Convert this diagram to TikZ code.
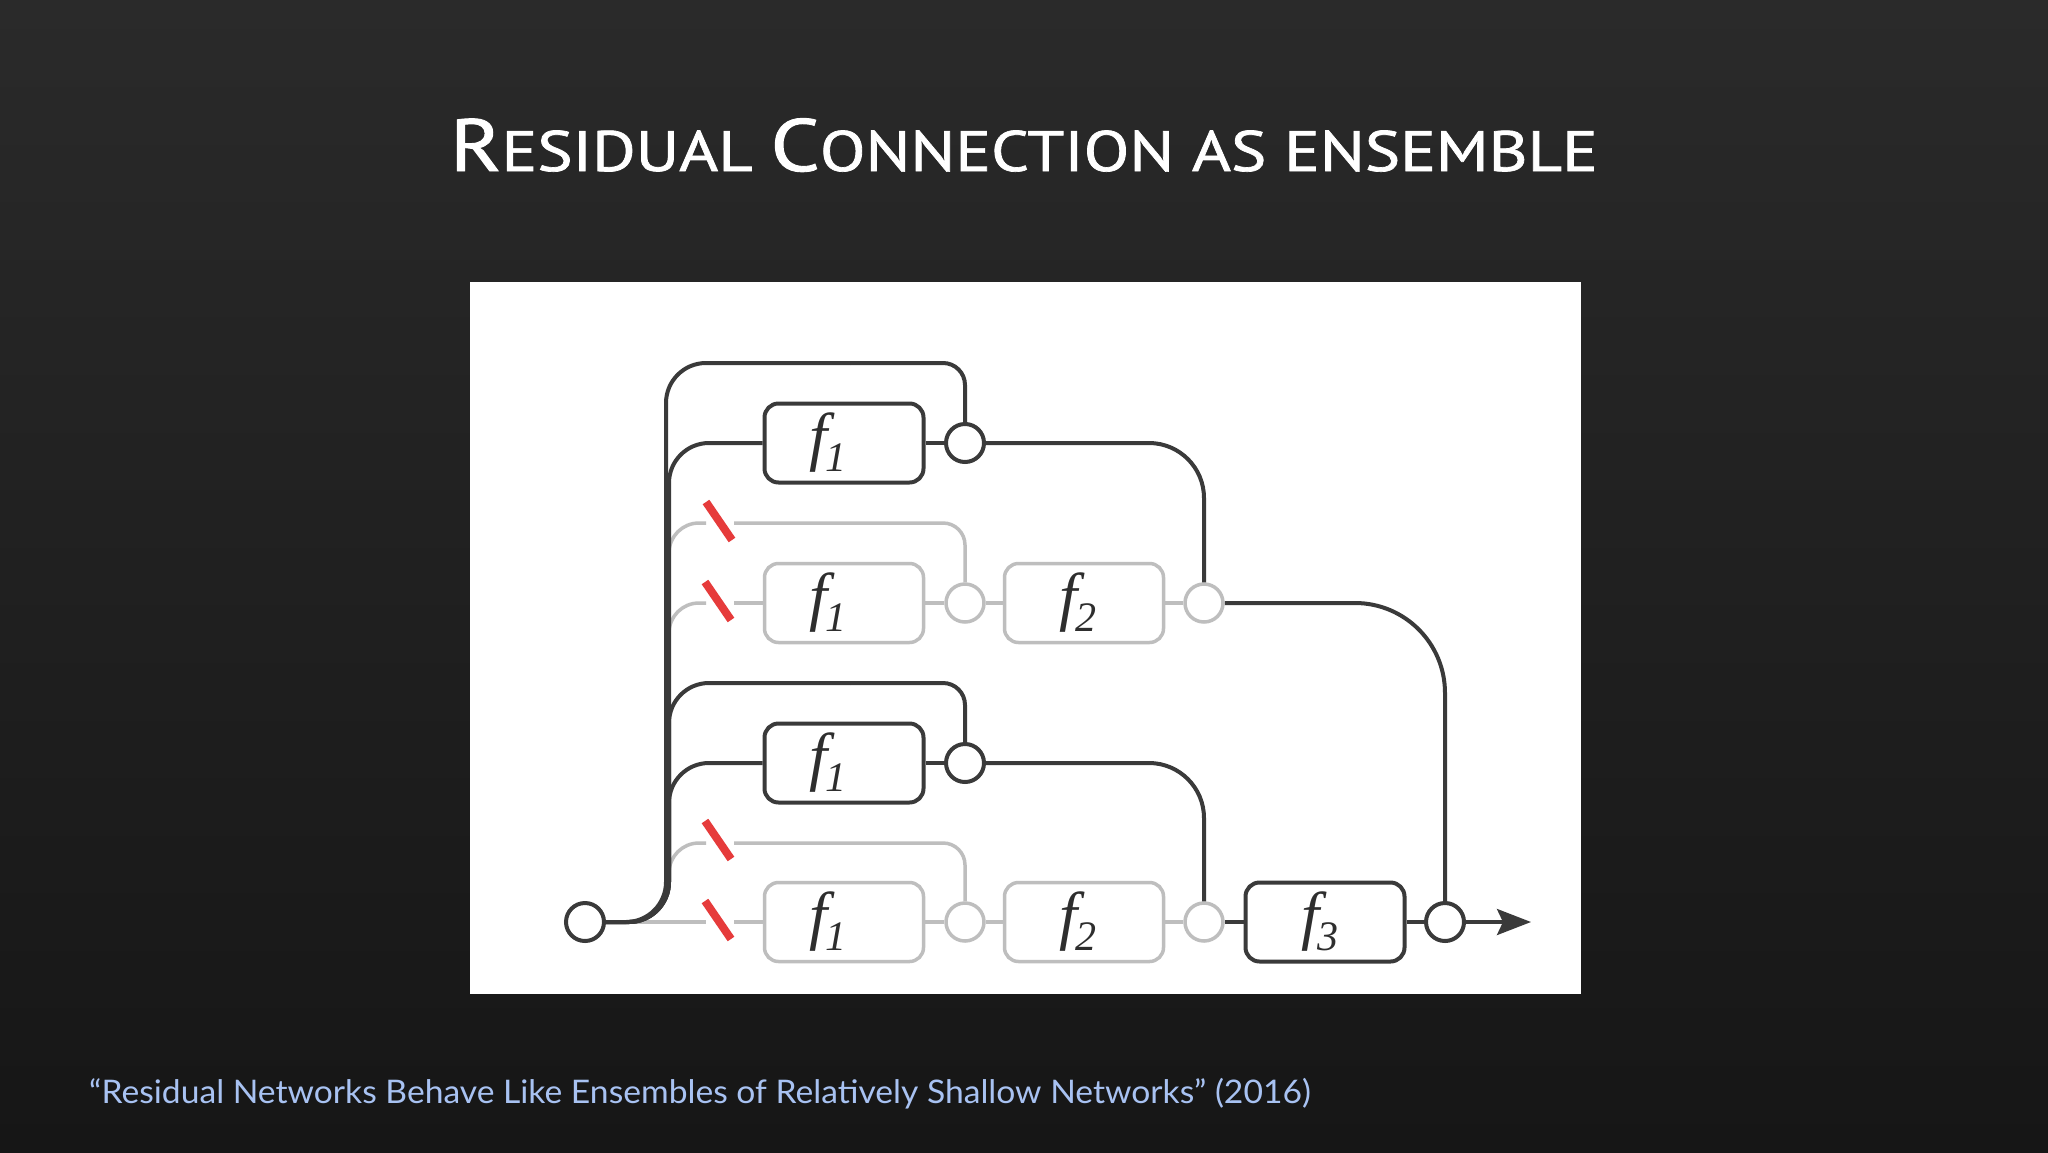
\documentclass[tikz,border=0pt]{standalone}
\usepackage{fontspec}
\usetikzlibrary{arrows.meta}
\newfontfamily\titlefont[FakeBold=1.2]{PT Sans}
\newfontfamily\footfont{Lato}
\newfontfamily\tms{Liberation Serif}
\definecolor{dk}{HTML}{3A3A3A}
\definecolor{gy}{HTML}{BEBEBE}
\definecolor{rd}{HTML}{E63B3B}
\definecolor{bgtop}{HTML}{2A2A2A}
\definecolor{bgbot}{HTML}{161616}
\definecolor{footc}{HTML}{A8C2F2}
\definecolor{txt}{HTML}{2E2E2E}
\newcommand\flab[1]{{\tms\itshape\fontsize{65}{65}\selectfont f\kern-3pt\raisebox{-13pt}{\fontsize{42}{42}\selectfont #1}}}
\newcommand\tbig[1]{{\fontsize{74}{80}\selectfont #1}}
\tikzset{
 dkline/.style={draw=dk, line width=4pt},
 gyline/.style={draw=gy, line width=3.5pt},
 boxd/.style={rectangle, draw=dk, line width=4pt, rounded corners=14pt, minimum width=159pt, minimum height=79pt, fill=white, inner sep=0pt, text=txt},
 boxg/.style={boxd, draw=gy, line width=3.5pt},
 sumd/.style={circle, draw=dk, line width=4pt, fill=white, minimum size=38pt, inner sep=0pt},
 sumg/.style={sumd, draw=gy, line width=3.5pt},
 rslash/.style={draw=rd, line width=8pt},
}
\begin{document}
\begin{tikzpicture}[x=1pt,y=-1pt]
\useasboundingbox (0,0) rectangle (2048,1152);
\shade[top color=bgtop, bottom color=bgbot] (0,0) rectangle (2048,1152);
\fill[white] (470,282) rectangle (1581,994);
% title and footer
\node[anchor=base, text=white, inner sep=0pt] (title) at (1024,171)
  {\scalebox{1.17}[1]{\titlefont\fontsize{57}{60}\selectfont \tbig{R}ESIDUAL \tbig{C}ONNECTION AS ENSEMBLE}};
\node[anchor=base west, text=footc, inner sep=0pt] (ref) at (89,1103)
  {\scalebox{1.035}[1]{\footfont\fontsize{32.5}{36}\selectfont “Residual Networks Behave Like Ensembles of Relatively Shallow Networks” (2016)}};
% nodes
\node[sumd] (in) at (585,922) {};
\node[boxd] (f1a) at (844,443) {\hspace*{-32pt}\flab{1}};
\node[sumd] (c1) at (965,443) {};
\node[boxg] (gf1a) at (844,603) {\hspace*{-32pt}\flab{1}};
\node[sumg] (g1c) at (965,603) {};
\node[boxg] (gf2a) at (1084,603) {\hspace*{-12pt}\flab{2}};
\node[sumg] (g2c) at (1204,603) {};
\node[boxd] (f1b) at (844,763) {\hspace*{-32pt}\flab{1}};
\node[sumd] (c2) at (965,763) {};
\node[boxg] (gf1b) at (844,922) {\hspace*{-32pt}\flab{1}};
\node[sumg] (g3c) at (965,922) {};
\node[boxg] (gf2b) at (1084,922) {\hspace*{-12pt}\flab{2}};
\node[sumg] (g4c) at (1204,922) {};
\node[boxd] (f3) at (1325,922) {\hspace*{-10pt}\flab{3}};
\node[sumd] (out) at (1445,922) {};
\coordinate (end) at (1531,922);
\coordinate (tr) at (669,882);
% slash gap coordinates
\coordinate (s1l) at (706,523); \coordinate (s1r) at (734,523);
\coordinate (s2l) at (706,603); \coordinate (s2r) at (734,603);
\coordinate (s3l) at (706,843); \coordinate (s3r) at (734,843);
\coordinate (s4l) at (706,922); \coordinate (s4r) at (734,922);
% gray paths
\draw[gyline, rounded corners=30pt] (tr) |- (s1l);
\draw[gyline, rounded corners=22pt] (s1r) -| (g1c.north);
\draw[gyline, rounded corners=30pt] (tr) |- (s2l);
\draw[gyline] (s2r) -- (gf1a.west);
\draw[gyline] (gf1a.east) -- (g1c.west);
\draw[gyline] (g1c.east) -- (gf2a.west);
\draw[gyline] (gf2a.east) -- (g2c.west);
\draw[gyline, rounded corners=30pt] (tr) |- (s3l);
\draw[gyline, rounded corners=22pt] (s3r) -| (g3c.north);
\draw[gyline] (in.east) -- (s4l);
\draw[gyline] (s4r) -- (gf1b.west);
\draw[gyline] (gf1b.east) -- (g3c.west);
\draw[gyline] (g3c.east) -- (gf2b.west);
\draw[gyline] (gf2b.east) -- (g4c.west);
% red slashes
\draw[rslash] (719,521) +(-13,-19) -- +(13,19);
\draw[rslash] (718,601) +(-13,-19) -- +(13,19);
\draw[rslash] (718,840) +(-13,-19) -- +(13,19);
\draw[rslash] (718,920) +(-13,-19) -- +(13,19);
% dark paths
\draw[dkline, rounded corners=40pt] (in.east) -- (666,922) -- (666,363) -- (850,363);
\draw[dkline, rounded corners=22pt] (850,363) -| (c1.north);
\draw[dkline, rounded corners=40pt] (in.east) -- (669,922) |- (f1a.west);
\draw[dkline] (f1a.east) -- (c1.west);
\draw[dkline, rounded corners=55pt] (c1.east) -| (g2c.north);
\draw[dkline, rounded corners=90pt] (g2c.east) -| (out.north);
\draw[dkline, rounded corners=40pt] (in.east) -- (669,922) |- (850,683);
\draw[dkline, rounded corners=22pt] (850,683) -| (c2.north);
\draw[dkline, rounded corners=40pt] (in.east) -- (669,922) |- (f1b.west);
\draw[dkline] (f1b.east) -- (c2.west);
\draw[dkline, rounded corners=55pt] (c2.east) -| (g4c.north);
\draw[dkline] (g4c.east) -- (f3.west);
\draw[dkline] (f3.east) -- (out.west);
\draw[dkline, line width=3.5pt, -{Stealth[length=34pt, width=26pt, inset=6pt]}] (out.east) -- (end);
\end{tikzpicture}
\end{document}
